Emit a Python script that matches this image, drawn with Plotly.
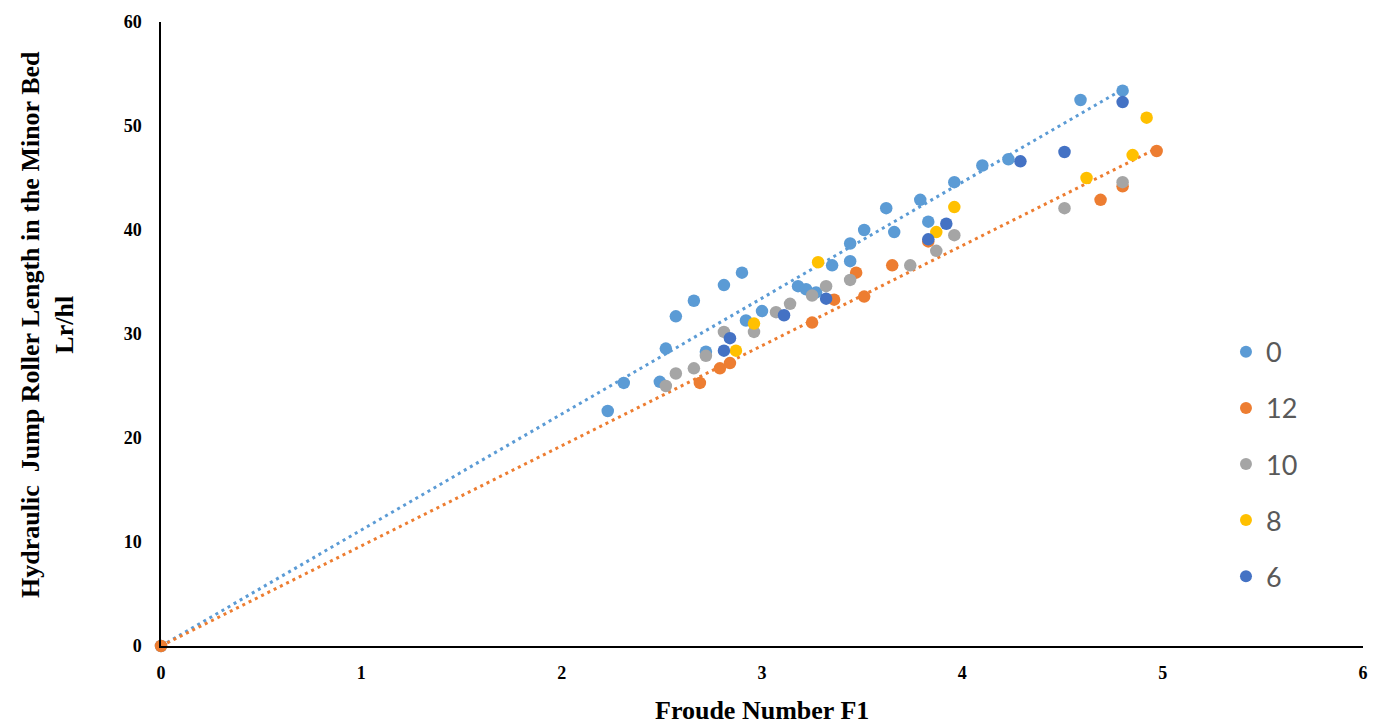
import numpy as np
import plotly.graph_objects as go

series_names = ["0", "12", "10", "8", "6"]
series_colors = ["#5B9BD5", "#ED7D31", "#A5A5A5", "#FFC000", "#4472C4"]

x0 = [0, 2.23, 2.31, 2.49, 2.52, 2.57, 2.66, 2.72, 2.81, 2.90, 2.92, 3.00, 3.18, 3.22, 3.27, 3.35,
      3.44, 3.44, 3.51, 3.62, 3.66, 3.79, 3.83, 3.96, 4.10, 4.23, 4.59, 4.80]
y0 = [0, 22.6, 25.3, 25.4, 28.6, 31.7, 33.2, 28.3, 34.7, 35.9, 31.3, 32.2, 34.6, 34.3, 34.0, 36.6,
      37.0, 38.7, 40.0, 42.1, 39.8, 42.9, 40.8, 44.6, 46.2, 46.8, 52.5, 53.4]

x12 = [0, 2.69, 2.79, 2.84, 3.25, 3.36, 3.47, 3.51, 3.65, 3.83, 4.69, 4.80, 4.97]
y12 = [0, 25.3, 26.7, 27.2, 31.1, 33.3, 35.9, 33.6, 36.6, 38.9, 42.9, 44.2, 47.6]

x10 = [2.52, 2.57, 2.66, 2.72, 2.81, 2.96, 3.07, 3.14, 3.25, 3.32, 3.44, 3.74, 3.87, 3.96, 4.51, 4.80]
y10 = [25.0, 26.2, 26.7, 27.9, 30.2, 30.2, 32.1, 32.9, 33.7, 34.6, 35.2, 36.6, 38.0, 39.5, 42.1, 44.6]

x8 = [2.87, 2.96, 3.28, 3.87, 3.96, 4.62, 4.85, 4.92]
y8 = [28.4, 31.0, 36.9, 39.8, 42.2, 45.0, 47.2, 50.8]

x6 = [2.81, 2.84, 3.11, 3.32, 3.83, 3.92, 4.29, 4.51, 4.80]
y6 = [28.4, 29.6, 31.8, 33.4, 39.1, 40.6, 46.6, 47.5, 52.3]

x_ticks = [0, 1, 2, 3, 4, 5, 6]
y_ticks = [0, 10, 20, 30, 40, 50, 60]

xs = [x0, x12, x10, x8, x6]
ys = [y0, y12, y10, y8, y6]

fig = go.Figure()

# linear trendlines through the origin for series 0 and 12
for idx in [0, 1]:
    xa = np.array(xs[idx], dtype=float)
    ya = np.array(ys[idx], dtype=float)
    slope = (xa * ya).sum() / (xa * xa).sum()
    xl = np.array([0.0, xa.max()])
    fig.add_trace(go.Scatter(
        x=xl, y=slope * xl, mode="lines", showlegend=False, hoverinfo="skip",
        line=dict(color=series_colors[idx], width=3, dash="3px,4px"),
        cliponaxis=False,
    ))

for name, color, xv, yv in zip(series_names, series_colors, xs, ys):
    fig.add_trace(go.Scatter(
        x=xv, y=yv, mode="markers", name=name, legendgroup=name,
        marker=dict(color=color, size=12.5),
        cliponaxis=False,
    ))

fig.update_layout(
    width=1383, height=725,
    margin=dict(l=161, r=20, t=17, b=79),
    plot_bgcolor="white", paper_bgcolor="white",
    showlegend=True,
    legend=dict(
        x=0.886, y=0.51, xanchor="left", yanchor="top",
        font=dict(family="Lato", size=27, color="#595959"),
        tracegroupgap=18, traceorder="grouped", itemsizing="constant",
        bgcolor="rgba(0,0,0,0)",
    ),
    xaxis=dict(
        range=[0, 6], tickvals=x_ticks, ticktext=[str(t) for t in x_ticks],
        showgrid=False, zeroline=False, showline=True, linecolor="#000000", linewidth=1.5,
        ticks="", ticklabelstandoff=10,
        tickfont=dict(family="Liberation Serif", size=18, color="#000000", weight=700),
    ),
    yaxis=dict(
        range=[0, 60], tickvals=y_ticks, ticktext=[str(t) for t in y_ticks],
        showgrid=False, zeroline=False, showline=True, linecolor="#000000", linewidth=1.5,
        ticks="", ticklabelstandoff=14,
        tickfont=dict(family="Liberation Serif", size=18, color="#000000", weight=700),
    ),
    annotations=[
        dict(text="<b>Froude Number F1</b>", xref="paper", yref="paper",
             x=0.5, y=0, yshift=-64, xanchor="center", yanchor="middle", showarrow=False,
             font=dict(family="Liberation Serif", size=26, color="#000000")),
        dict(text="<b>Hydraulic  Jump Roller Length in the Minor Bed<br>Lr/hl</b>",
             xref="paper", yref="paper", x=0, xshift=-114, y=0.5, yshift=9,
             xanchor="center", yanchor="middle", textangle=-90, showarrow=False,
             font=dict(family="Liberation Serif", size=26, color="#000000")),
    ],
)

fig.write_html(
    "out.html",
    config={"displayModeBar": False},
    post_script="document.body.style.margin='0';document.body.style.overflow='hidden';",
)
